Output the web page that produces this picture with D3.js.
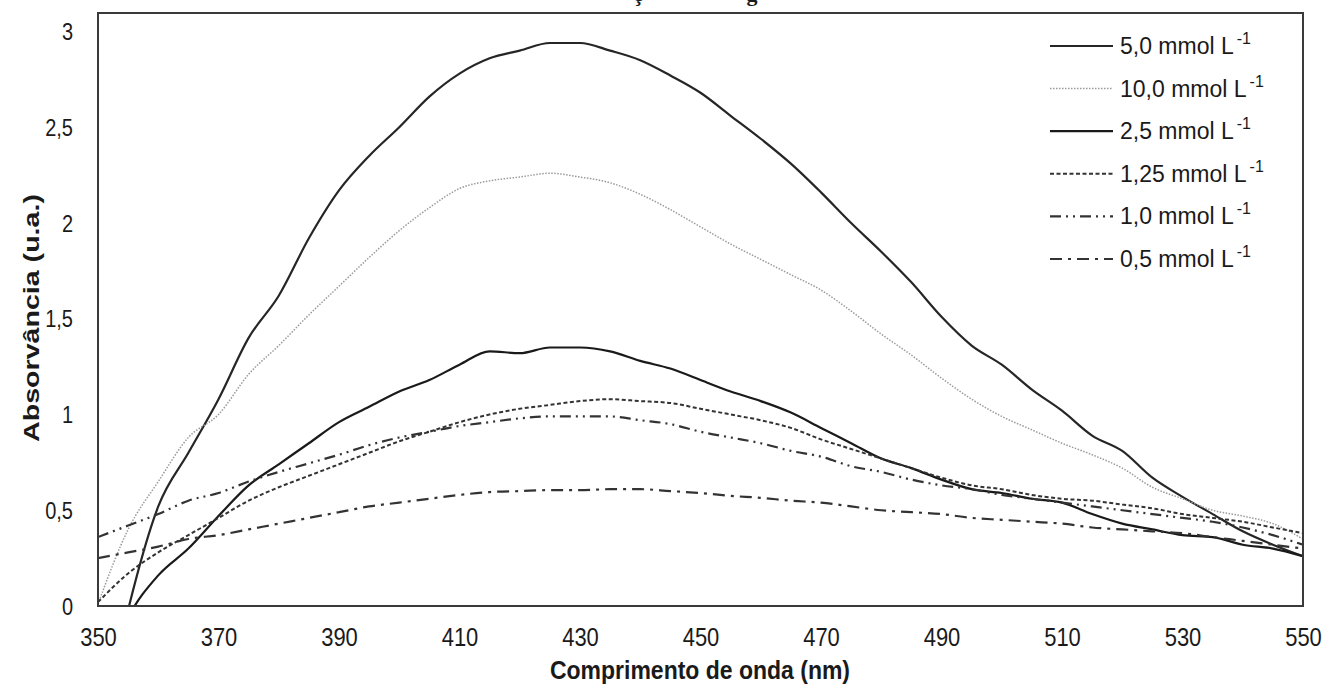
<!DOCTYPE html>
<html>
<head>
<meta charset="utf-8">
<script src="https://cdn.jsdelivr.net/npm/d3@7"></script>
<style>
  body { margin: 0; background: #fff; }
  svg text { font-family: "Liberation Sans", Arial, sans-serif; fill: #1a1a1a; }
</style>
</head>
<body>
<div id="chart"></div>
<script>
// wavelength (nm) and absorbance
var wavelengths = [350,355,360,365,370,375,380,385,390,395,400,405,410,415,420,425,430,435,440,445,450,
                   455,460,465,470,475,480,485,490,495,500,505,510,515,520,525,530,535,540,545,550];

var conc5_0  = [-0.75,-0.02,0.52,0.80,1.08,1.40,1.62,1.92,2.17,2.35,2.50,2.66,2.78,2.86,2.90,2.94,2.94,2.90,2.85,2.77,2.68,
                2.56,2.44,2.31,2.16,2.00,1.85,1.69,1.51,1.36,1.26,1.13,1.02,0.89,0.81,0.67,0.57,0.48,0.39,0.32,0.26];
var conc10_0 = [0.01,0.40,0.65,0.88,1.00,1.21,1.36,1.52,1.67,1.82,1.96,2.08,2.18,2.22,2.24,2.26,2.24,2.21,2.15,2.07,1.98,
                1.89,1.81,1.73,1.65,1.54,1.42,1.31,1.19,1.08,0.99,0.92,0.85,0.79,0.72,0.62,0.56,0.50,0.47,0.43,0.35];
var conc2_5  = [-0.45,-0.06,0.16,0.30,0.47,0.63,0.74,0.85,0.96,1.04,1.12,1.18,1.26,1.33,1.32,1.35,1.35,1.33,1.28,1.24,1.18,
                1.12,1.07,1.01,0.93,0.85,0.77,0.72,0.66,0.61,0.59,0.56,0.54,0.48,0.43,0.40,0.37,0.36,0.32,0.30,0.26];
var conc1_25 = [0.02,0.17,0.28,0.37,0.46,0.55,0.62,0.68,0.74,0.80,0.86,0.91,0.96,1.00,1.03,1.05,1.07,1.08,1.07,1.06,1.03,
                1.00,0.97,0.93,0.87,0.82,0.77,0.72,0.67,0.63,0.61,0.58,0.56,0.55,0.53,0.51,0.48,0.46,0.44,0.41,0.38];
var conc1_0  = [0.36,0.42,0.48,0.55,0.59,0.65,0.70,0.745,0.79,0.84,0.88,0.91,0.94,0.96,0.98,0.99,0.99,0.99,0.97,0.95,0.91,
                0.88,0.85,0.81,0.78,0.73,0.70,0.66,0.63,0.61,0.58,0.56,0.54,0.52,0.50,0.48,0.46,0.44,0.41,0.37,0.32];
var conc0_5  = [0.25,0.28,0.31,0.35,0.37,0.40,0.43,0.46,0.49,0.52,0.54,0.56,0.58,0.595,0.60,0.605,0.605,0.61,0.61,0.60,0.59,
                0.575,0.565,0.55,0.54,0.52,0.50,0.49,0.48,0.46,0.45,0.44,0.43,0.41,0.40,0.39,0.38,0.36,0.34,0.32,0.30];

var seriesLabels = ["5,0", "10,0", "2,5", "1,25", "1,0", "0,5"];
var xTicks = [350,370,390,410,430,450,470,490,510,530,550];
var yTicks = [0,0.5,1,1.5,2,2.5,3];

var width = 1325, height = 687;
var plot = {left: 98, right: 1303, top: 13, bottom: 606};

// line look for each series, same order as the labels
var styles = [
  {stroke: "#262626", width: 2.2, dash: null},
  {stroke: "#9a9a9a", width: 1.5, dash: "1.5,1.5"},
  {stroke: "#1a1a1a", width: 2.2, dash: null},
  {stroke: "#333", width: 2, dash: "4,2.5"},
  {stroke: "#333", width: 2.2, dash: "11,5,2,5,2,5"},
  {stroke: "#333", width: 2.2, dash: "12,6,3,6"}
];

var seriesValues = [conc5_0, conc10_0, conc2_5, conc1_25, conc1_0, conc0_5];

var x = d3.scaleLinear().domain([350, 550]).range([plot.left, plot.right]);
var y = d3.scaleLinear().domain([0, 3]).range([plot.bottom, 31.5]);

var svg = d3.select("#chart")
  .append("svg")
    .attr("width", width)
    .attr("height", height);

svg.append("clipPath").attr("id", "plotclip")
  .append("rect")
    .attr("x", plot.left).attr("y", plot.top)
    .attr("width", plot.right - plot.left).attr("height", plot.bottom - plot.top);

// cut-off caption remnants at the very top
svg.append("text").attr("x", 638).attr("y", 1).attr("text-anchor", "middle")
  .style("font-family", "'Liberation Serif', serif").style("font-weight", "bold").style("font-size", "22px")
  .text("ç");
svg.append("text").attr("x", 752).attr("y", 1).attr("text-anchor", "middle")
  .style("font-family", "'Liberation Serif', serif").style("font-weight", "bold").style("font-size", "22px")
  .text("g");

// the curves
var line = d3.line()
  .x(function(d) { return x(d[0]); })
  .y(function(d) { return y(d[1]); })
  .curve(d3.curveMonotoneX);

var curves = svg.append("g").attr("clip-path", "url(#plotclip)");
seriesValues.forEach(function(vals, i) {
  var pts = wavelengths.map(function(w, j) { return [w, vals[j]]; });
  curves.append("path")
    .datum(pts)
    .attr("d", line)
    .attr("fill", "none")
    .attr("stroke", styles[i].stroke)
    .attr("stroke-width", styles[i].width)
    .attr("stroke-dasharray", styles[i].dash);
});

// frame
svg.append("rect")
  .attr("x", plot.left).attr("y", plot.top)
  .attr("width", plot.right - plot.left).attr("height", plot.bottom - plot.top)
  .attr("fill", "none").attr("stroke", "#3a3a3a").attr("stroke-width", 2);

// x axis (labels only, no tick marks)
var xAxis = svg.append("g")
  .attr("transform", "translate(0," + plot.bottom + ")")
  .call(d3.axisBottom(x).tickValues(xTicks).tickSize(0).tickPadding(0).tickFormat(d3.format("d")));
xAxis.select(".domain").remove();
xAxis.selectAll("text")
  .attr("y", 0).attr("dy", null)
  .attr("transform", "translate(0,40) scale(1,1.2)")
  .style("font-size", "22px");

// y axis
var yAxis = svg.append("g")
  .attr("transform", "translate(" + plot.left + ",0)")
  .call(d3.axisLeft(y).tickValues(yTicks).tickSize(0).tickPadding(0)
    .tickFormat(function(d) { return String(d).replace(".", ","); }));
yAxis.select(".domain").remove();
yAxis.selectAll("text")
  .attr("x", 0).attr("dy", null)
  .attr("transform", "translate(-25,8) scale(1,1.2)")
  .style("font-size", "20px");

// axis titles
svg.append("text")
  .attr("transform", "translate(700,679) scale(1,1.1)")
  .attr("text-anchor", "middle")
  .style("font-size", "23px").style("font-weight", "bold")
  .text("Comprimento de onda (nm)");

svg.append("text")
  .attr("transform", "translate(39,318) rotate(-90) scale(1.3,1)")
  .attr("text-anchor", "middle")
  .style("font-size", "22px").style("font-weight", "bold")
  .text("Absorvância  (u.a.)");

// legend
var legend = svg.append("g").attr("transform", "translate(1050,46)");
seriesLabels.forEach(function(lab, i) {
  var row = legend.append("g").attr("transform", "translate(0," + (i * 42.6) + ")");
  row.append("line")
    .attr("x1", 0).attr("x2", 63).attr("y1", 0).attr("y2", 0)
    .attr("stroke", styles[i].stroke)
    .attr("stroke-width", styles[i].width)
    .attr("stroke-dasharray", styles[i].dash);
  var t = row.append("text")
    .attr("x", 70).attr("y", 8)
    .style("font-size", "23px");
  t.append("tspan").text(lab + " mmol L");
  t.append("tspan").attr("dy", -10).attr("dx", 3).style("font-size", "16px").text("-1");
});
</script>
</body>
</html>
